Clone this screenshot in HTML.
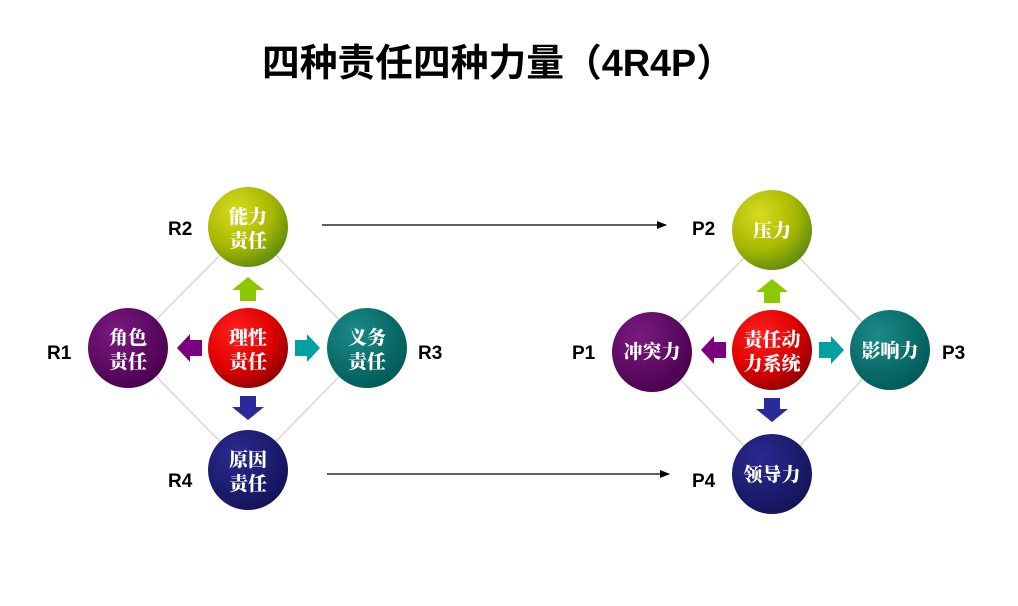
<!DOCTYPE html>
<html><head><meta charset="utf-8"><style>
html,body{margin:0;padding:0;background:#fff;width:1018px;height:606px;overflow:hidden}
svg text{font-family:"Liberation Sans","Noto Sans CJK SC",sans-serif}
.c{font-family:"Noto Serif CJK SC","Noto Sans CJK SC",serif;font-weight:900;fill:#fff;font-size:19px;text-anchor:middle}
.l{font-weight:bold;font-size:19px;fill:#000}
</style></head><body>
<svg width="1018" height="606" viewBox="0 0 1018 606" xmlns="http://www.w3.org/2000/svg">
<defs>
<radialGradient id="gg" cx="35%" cy="30%" r="75%"><stop offset="0" stop-color="#d8dc20"/><stop offset="0.6" stop-color="#a8b800"/><stop offset="1" stop-color="#5e8a10"/></radialGradient>
<radialGradient id="gr" cx="35%" cy="30%" r="75%"><stop offset="0" stop-color="#ff2020"/><stop offset="0.6" stop-color="#e00000"/><stop offset="1" stop-color="#900000"/></radialGradient>
<radialGradient id="gp" cx="35%" cy="30%" r="75%"><stop offset="0" stop-color="#7a1a80"/><stop offset="1" stop-color="#4a0050"/></radialGradient>
<radialGradient id="gt" cx="35%" cy="30%" r="75%"><stop offset="0" stop-color="#1a8a88"/><stop offset="1" stop-color="#005a58"/></radialGradient>
<radialGradient id="gb" cx="35%" cy="30%" r="75%"><stop offset="0" stop-color="#2a2a90"/><stop offset="1" stop-color="#14145a"/></radialGradient>
<marker id="ah" markerWidth="10" markerHeight="8" refX="9" refY="4" orient="auto" markerUnits="userSpaceOnUse"><path d="M0,0 L10,4 L0,8 Z" fill="#000"/></marker>
<g id="arrows">
<path d="M0,-71 L16,-58 L8,-58 L8,-47 L-8,-47 L-8,-58 L-16,-58 Z" fill="#8cc800"/>
<path d="M0,72 L16,59 L8,59 L8,48 L-8,48 L-8,59 L-16,59 Z" fill="#2a2a9a"/>
<path d="M-71,0 L-58,-14 L-58,-8 L-46,-8 L-46,8 L-58,8 L-58,14 Z" fill="#7a0080"/>
<path d="M72,0 L59,-14 L59,-8 L47,-8 L47,8 L59,8 L59,14 Z" fill="#00a0a0"/>
</g>
</defs>
<text x="498" y="76" font-size="38" font-weight="bold" text-anchor="middle" textLength="472" lengthAdjust="spacingAndGlyphs" font-family="Noto Sans CJK SC, sans-serif">四种责任四种力量（4R4P）</text>

<!-- left diagram -->
<polygon points="248,227 367,348 248,470 128,348" fill="none" stroke="#d8d8d8" stroke-width="1.5"/>
<use href="#arrows" transform="translate(248,348)"/>
<circle cx="248" cy="227" r="40" fill="url(#gg)"/>
<circle cx="128" cy="348" r="40" fill="url(#gp)"/>
<circle cx="248" cy="348" r="40" fill="url(#gr)"/>
<circle cx="367" cy="348" r="40" fill="url(#gt)"/>
<circle cx="248" cy="470" r="40" fill="url(#gb)"/>
<text class="c" x="248" y="223">能力</text><text class="c" x="248" y="247">责任</text>
<text class="c" x="128" y="344">角色</text><text class="c" x="128" y="368">责任</text>
<text class="c" x="248" y="344">理性</text><text class="c" x="248" y="368">责任</text>
<text class="c" x="367" y="344">义务</text><text class="c" x="367" y="368">责任</text>
<text class="c" x="248" y="466">原因</text><text class="c" x="248" y="490">责任</text>
<text class="l" x="168" y="235">R2</text>
<text class="l" x="47" y="359">R1</text>
<text class="l" x="418" y="359">R3</text>
<text class="l" x="168" y="487">R4</text>

<!-- right diagram -->
<polygon points="772,230 890,350 772,475 652,350" fill="none" stroke="#d8d8d8" stroke-width="1.5"/>
<use href="#arrows" transform="translate(772,350)"/>
<circle cx="772" cy="230" r="40" fill="url(#gg)"/>
<circle cx="652" cy="352" r="40" fill="url(#gp)"/>
<circle cx="772" cy="350" r="40" fill="url(#gr)"/>
<circle cx="890" cy="350" r="40" fill="url(#gt)"/>
<circle cx="772" cy="474" r="40" fill="url(#gb)"/>
<text class="c" x="772" y="237">压力</text>
<text class="c" x="652" y="358">冲突力</text>
<text class="c" x="772" y="346">责任动</text><text class="c" x="772" y="370">力系统</text>
<text class="c" x="890" y="357">影响力</text>
<text class="c" x="772" y="481">领导力</text>
<text class="l" x="692" y="235">P2</text>
<text class="l" x="572" y="359">P1</text>
<text class="l" x="942" y="359">P3</text>
<text class="l" x="692" y="487">P4</text>

<line x1="322" y1="225" x2="666" y2="225" stroke="#000" stroke-width="1.3" marker-end="url(#ah)"/>
<line x1="327" y1="474" x2="669" y2="474" stroke="#000" stroke-width="1.3" marker-end="url(#ah)"/>
</svg>
</body></html>
